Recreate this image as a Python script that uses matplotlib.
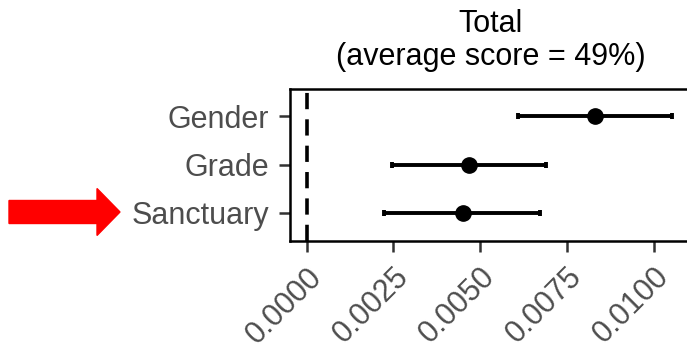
import matplotlib

matplotlib.use("Agg")
import matplotlib.pyplot as plt
from matplotlib.patches import FancyArrow

plt.rcParams["font.family"] = ["Liberation Sans", "DejaVu Sans"]

categories = ["Sanctuary", "Grade", "Gender"]
estimate = [0.00450, 0.00469, 0.00831]
lower = [0.00224, 0.00245, 0.00610]
upper = [0.00673, 0.00690, 0.01054]
xticks = [0.0, 0.0025, 0.0050, 0.0075, 0.0100]
xtick_labels = ["0.0000", "0.0025", "0.0050", "0.0075", "0.0100"]
title = "Total\n(average score = 49%)"

fig = plt.figure(figsize=(6.87, 3.5), dpi=100)
ax = fig.add_axes([289.7 / 687, 109 / 350, (691 - 289.7) / 687, 152 / 350])

ypos = list(range(1, len(categories) + 1))
ax.axvline(0, color="black", lw=2.6, ls=(0, (4.5, 2.8)), zorder=1)
err = [[e - lo for e, lo in zip(estimate, lower)], [hi - e for e, hi in zip(estimate, upper)]]
ax.errorbar(estimate, ypos, xerr=err, fmt="o", color="black", ms=11,
            elinewidth=2.8, capsize=2, capthick=2.8, zorder=3)

ax.set_xlim(-0.00049, 0.01108)
ax.set_ylim(0.42, 3.56)
ax.set_yticks(ypos)
ax.set_yticklabels(categories)
ax.set_xticks(xticks)
ax.set_xticklabels(xtick_labels, rotation=45, ha="right", va="top", rotation_mode="anchor")

ax.tick_params(axis="both", length=8, width=1.8, color="#333333",
               labelsize=22, labelcolor="#4D4D4D", pad=7)
for s in ax.spines.values():
    s.set_linewidth(1.8)
    s.set_color("black")

ax.set_title(title, fontsize=22, color="black", pad=17, linespacing=1.15)

arrow = FancyArrow(9 / 687, 1 - 212 / 350, (120 - 9) / 687, 0, width=23 / 350,
                   head_width=47 / 350, head_length=23 / 687,
                   length_includes_head=True, color="red", transform=fig.transFigure)
fig.patches.append(arrow)

fig.savefig("out.png", dpi=100)
